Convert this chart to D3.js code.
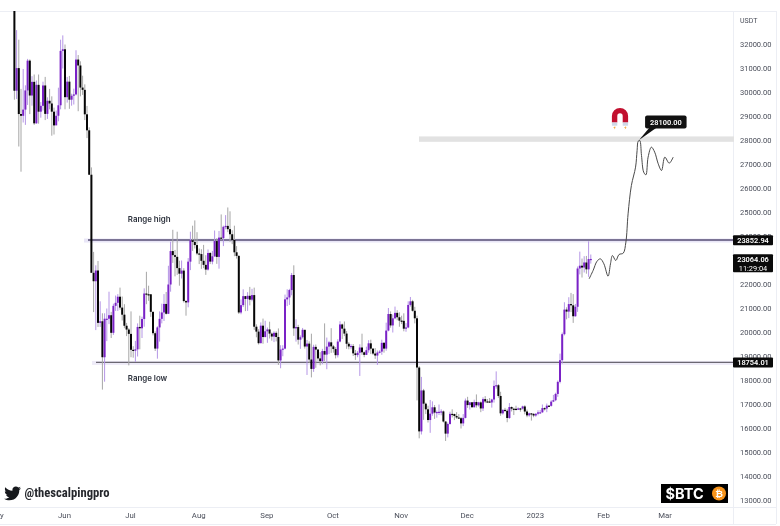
<!DOCTYPE html>
<html><head><meta charset="utf-8">
<script src="https://cdn.jsdelivr.net/npm/d3@7/dist/d3.min.js"></script>
<style>html,body{margin:0;padding:0;background:#fff}svg{display:block;filter:blur(.3px)}</style>
</head><body><div id="c"></div>
<script>
const firstCandle = "2022-05-09";
const firstOpen = 34050;
const closes = [
30074,31017,29103,29030,29287,30086,31328,29874,30444,28715,30319,29201,29445,30293,29109,29655,29542,29201,28629,29031,29468,31734,31801,
29805,30452,29700,29864,29920,31373,31125,30205,30110,29091,28424,26574,22487,22136,22583,20401,20468,18970,20574,20574,20720,19987,21110,21237,21491,21038,20742,20281,20123,19942,
19279,19243,19298,20231,20175,20564,21624,21594,21592,20861,19970,19330,20212,20569,20836,21190,20780,22000,23393,23223,23152,22684,22451,22579,21310,21254,22952,23843,23774,23643,23293,
23268,22987,22818,22622,23312,22954,23175,23810,23149,23954,23934,24403,24442,24305,24094,23854,23342,23191,20834,21140,21515,21399,21529,21368,21559,20241,20037,19555,20285,19811,20050,
20127,19953,19832,19986,19812,18837,19290,19329,21381,21460,21769,22395,20173,20226,19701,19803,20113,19416,19537,18875,18483,19401,19289,18920,18807,19227,19079,19412,19591,19422,
19310,19056,19623,20336,20160,19955,19531,19417,19439,19131,19060,19155,19375,19176,19068,19262,19549,19327,19123,19041,19164,19204,19570,19329,20080,20771,20295,20591,20818,20635,20495,
20485,20159,20209,21148,21300,20905,20592,18541,15880,17586,17034,16799,16353,16618,16884,16663,16688,16697,16712,16291,15787,16189,16610,16604,16522,16458,16428,16212,16442,17163,
16977,17092,16885,17105,16967,17089,16836,17224,17128,17127,17085,17209,17774,17803,17356,16632,16776,16739,16438,16895,16824,16821,16778,16837,16830,16919,16707,16547,16633,16607,16542,
16616,16672,16675,16850,16831,16950,16943,17120,17179,17440,17943,18846,19930,20954,20871,21185,21133,20677,21071,22667,22783,22707,22917,22632,23060,23064];
const highs = [
34200,32600,32200,30150,30980,30300,31400,31380,30680,30750,30500,30750,29600,30450,30650,29800,30150,29840,29370,29250,30200,32200,32380,
32000,30650,30690,29950,30160,31760,31560,31300,30700,30340,29440,28550,26880,23360,22800,22980,21300,20800,20800,21000,21700,20860,21200,21540,21600,21870,21500,21180,20400,20180,
20880,19430,19650,20380,20700,20660,21840,22530,21950,21600,20870,20050,20260,20880,21200,21600,21690,22780,23780,24280,23440,24200,22990,23000,22680,21350,23100,24200,24450,24670,24180,
23500,23470,23650,23220,23460,23350,23400,24250,23930,24230,24920,24450,24890,25210,25050,24260,24450,23600,23220,21380,21800,21520,21680,21900,21820,21870,20340,20140,20420,20580,20490,
20210,20450,20000,20050,20050,20170,19470,19470,21580,21800,21820,22480,22800,20550,20320,19880,20190,20100,19690,19630,19950,19490,19500,19310,19180,19320,20380,19790,19650,20180,
19480,19390,19720,20470,20370,20460,20060,19600,19520,19520,19270,19230,19510,19950,19210,19410,19680,19700,19350,19350,19250,19260,19700,19600,20410,21020,20880,20750,21080,20930,20840,
20700,20800,20390,21300,21480,21360,21070,20700,18600,18150,17650,17080,16950,17190,17130,16980,16750,17000,16800,16750,16300,16250,16700,16800,16620,16680,16600,16480,16600,17250,
17320,17100,17090,17200,17420,17110,17130,17300,17350,17230,17270,17240,18000,18380,17850,17530,16800,16860,16820,17060,16920,16870,16950,16880,16860,16950,16970,16790,16660,16630,16640,
16630,16760,16770,17000,16880,17040,16980,17180,17400,17490,18000,19120,20000,21260,21050,21470,21650,21600,21190,22750,23370,23080,23180,23190,23800,23250];
const lows = [
29700,29730,27750,26700,28750,28650,29480,29100,29450,28650,28700,28700,28950,29250,28850,28900,29300,28200,28250,28800,28800,29300,31000,
29300,29580,29320,29450,29500,29880,29220,29840,29900,28850,28100,26560,22500,20850,20100,20230,20230,17620,17950,19640,20350,19770,19900,20900,20900,20950,20500,20180,19850,18630,
18970,18950,18780,19000,19300,19770,20240,21180,21320,20650,19880,19230,18910,19620,20380,20480,20750,20770,21700,22900,22340,22400,21950,22250,21250,20700,21050,22600,23400,23500,23220,
22850,22650,22680,22400,22580,22850,22840,23150,22860,22660,23850,23600,24300,24180,23780,23680,23180,23080,20770,20760,21060,20890,20900,21130,21300,20110,19800,19500,19550,19530,19800,
19570,19750,19660,19600,19630,18650,18510,19010,19300,21100,21150,21550,19860,19620,19500,19320,19750,19330,18230,18740,18130,18360,18530,18820,18630,18680,18810,18470,19100,19150,
19160,18920,18960,19590,19730,19850,19320,19300,19300,19020,18860,18970,18190,19070,18970,19060,19160,19100,19060,18900,18650,19130,19070,19160,19240,20050,20200,20000,20550,20510,20240,
20350,20050,20030,20180,21080,20870,20380,17170,15590,15750,16360,16600,16250,15820,16530,16400,16450,16560,16550,16250,15480,15630,16160,16460,16350,16400,16400,16000,16100,16420,
16860,16790,16870,16880,16870,16910,16680,16730,17060,17090,17070,16870,17080,17660,17280,16530,16580,16700,16260,16400,16710,16560,16750,16800,16700,16790,16590,16470,16490,16330,16470,
16490,16550,16620,16650,16750,16680,16910,16910,17100,17140,17320,17880,18700,19880,20550,20600,20850,20400,20660,20860,22420,22290,22500,22450,22320,22870];

const projectionDays = [24.7,26.5,28.3,29.8,31.4,33.3,34.4,35.3,36.8,38.3,40.2,41.4,42.4,43.9,45.8,46.5,47,47.7,48.5,49.5,50.5,51.5,53,54.5,56.1,57.6,59.1,61.1,62.9];
const projectionPrices = [22236,22583,22972,23069,22861,22347,22861,23208,23000,23250,23306,23764,24944,26125,26889,27583,27972,28000,27375,26681,26569,27306,27722,27514,27028,26750,27306,27056,27306];

const priceTicks = [13000,14000,15000,16000,17000,18000,19000,20000,21000,22000,24000,25000,26000,27000,28000,29000,30000,31000,32000];
const monthTicks = ["2022-05-01","2022-06-01","2022-07-01","2022-08-01","2022-09-01","2022-10-01","2022-11-01","2022-12-01","2023-01-01","2023-02-01","2023-03-01"];
const monthLabels = ["May","Jun","Jul","Aug","Sep","Oct","Nov","Dec","2023","Feb","Mar"];
const rangeHigh = 23852.94, rangeLow = 18754.01, lastPrice = 23064.06, target = 28100;
const zoneTop = 28170, zoneBottom = 27945;
const rangeHighLabel = "Range high", rangeLowLabel = "Range low", handle = "@thescalpingpro", ticker = "$BTC", quote = "USDT", countdown = "11:29:04";

const W = 780, H = 526, paneR = 734, paneT = 11, paneB = 507, outerB = 524, outerR = 776;
const FONT = "Roboto, 'Liberation Sans', sans-serif";
const UP = "#7a22c6", DOWN = "#060606", UPW = "#b596e6", DOWNW = "#a6a6a6", BORDER = "#eceef4", TXT = "#4a4e5a";
const parse = d3.utcParse("%Y-%m-%d");

const x = d3.scaleUtc().domain([parse("2022-06-01"), parse("2023-03-01")]).range([64, 664.6]);
const barShift = 1;
const y = d3.scaleLinear().domain([13000, 32000]).range([500.5, 44.5]);
const start = parse(firstCandle);
const candles = closes.map((c, i) => ({
  t: d3.utcDay.offset(start, i), o: i ? closes[i - 1] : firstOpen, c, h: highs[i], l: lows[i]
}));
const jan1 = parse("2023-01-01");
const projection = projectionDays.map((d, i) => ({ t: new Date(+jan1 + d * 864e5), p: projectionPrices[i] }));

const svg = d3.select("#c").append("svg").attr("width", W).attr("height", H).style("font-family", FONT);
svg.append("rect").attr("width", W).attr("height", H).attr("fill", "#fff");
svg.append("defs").append("clipPath").attr("id", "pane").append("rect")
  .attr("x", 0).attr("y", paneT).attr("width", paneR).attr("height", paneB - paneT);

// frame
const frame = svg.append("g").attr("stroke", BORDER).attr("stroke-width", 1);
[[0, paneT + .5, outerR, paneT + .5], [0, paneB + .5, outerR, paneB + .5], [0, outerB + .5, outerR, outerB + .5],
 [paneR - .5, paneT, paneR - .5, outerB], [outerR + .5, paneT, outerR + .5, outerB]]
  .forEach(l => frame.append("line").attr("x1", l[0]).attr("y1", l[1]).attr("x2", l[2]).attr("y2", l[3]));

const pane = svg.append("g").attr("clip-path", "url(#pane)");

// target zone
pane.append("rect").attr("x", 419).attr("width", paneR - 419)
  .attr("y", y(zoneTop)).attr("height", y(zoneBottom) - y(zoneTop)).attr("fill", "#e2e2e2");

// range lines
function rangeLine(p, x0, col, halo) {
  pane.append("rect").attr("x", x0 - 4).attr("width", paneR - x0 + 4).attr("y", y(p) - 1.5).attr("height", 4).attr("fill", halo);
  pane.append("line").attr("x1", x0).attr("x2", paneR).attr("y1", y(p)).attr("y2", y(p)).attr("stroke", col).attr("stroke-width", 1.4);
}
rangeLine(rangeHigh, 88, "#564e74", "#e9e6f7");
rangeLine(rangeLow, 96, "#6b6772", "#eeebf8");

// candles
const g = pane.selectAll("g.c").data(candles).join("g").attr("class", "c").attr("transform", `translate(${barShift},0)`);
g.append("line").attr("x1", d => x(d.t)).attr("x2", d => x(d.t)).attr("y1", d => y(d.h)).attr("y2", d => y(d.l))
  .attr("stroke", d => d.c >= d.o ? UPW : DOWNW).attr("stroke-width", 1);
g.append("rect").attr("x", d => x(d.t) - 1).attr("width", 2)
  .attr("y", d => y(Math.max(d.o, d.c))).attr("height", d => Math.max(1.2, Math.abs(y(d.o) - y(d.c))))
  .attr("fill", d => d.c >= d.o ? UP : DOWN);

// projected path
pane.append("path").attr("fill", "none").attr("stroke", "#4a4a4a").attr("stroke-width", 1)
  .attr("d", d3.line().x(d => x(d.t)).y(d => y(d.p)).curve(d3.curveCatmullRom.alpha(.5))(projection));

// range labels
const label = (t, d, p) => svg.append("text").attr("x", x(parse(d))).attr("y", y(p)).text(t)
  .attr("fill", "#2a2f3a").attr("font-size", 7.9).attr("font-weight", 600)
  .attr("font-family", "Inter, Roboto, sans-serif");
label(rangeHighLabel, "2022-06-30", 24625);
label(rangeLowLabel, "2022-06-30", 18000);

// price axis
const axisR = svg.append("g").attr("transform", `translate(${paneR},0)`)
  .call(d3.axisRight(y).tickValues(priceTicks).tickSize(0).tickPadding(6).tickFormat(d3.format(".2f")));
axisR.select(".domain").remove();
axisR.selectAll("text").attr("font-family", FONT).attr("font-size", 7.5).attr("fill", TXT);
svg.append("text").attr("x", 740).attr("y", 23).text(quote).attr("font-size", 7).attr("fill", TXT);

// time axis
const axisB = svg.append("g").attr("transform", `translate(0,${paneB})`)
  .call(d3.axisBottom(x).tickValues(monthTicks.map(parse)).tickSize(0).tickPadding(5)
    .tickFormat((d, i) => monthLabels[i]));
axisB.select(".domain").remove();
axisB.selectAll("text").attr("font-family", FONT).attr("font-size", 7.8).attr("fill", TXT);

// price tags
function tag(top, h, lines) {
  const t = svg.append("g");
  t.append("rect").attr("x", paneR - 1).attr("y", top).attr("width", 40).attr("height", h).attr("rx", 1).attr("fill", "#0a0a0a");
  lines.forEach((s, i) => t.append("text").attr("x", paneR + 19).attr("y", top + 7.5 + i * 8.8)
    .attr("text-anchor", "middle").attr("fill", "#fff").attr("font-size", 7.4).attr("font-weight", i ? 400 : 600).text(s));
}
tag(y(rangeHigh) - 4.7, 10, [rangeHigh.toFixed(2)]);
tag(y(lastPrice) - 4.6, 18, [lastPrice.toFixed(2), countdown]);
tag(y(rangeLow) - 5, 10, [rangeLow.toFixed(2)]);

// target callout
const tipX = x(new Date(+jan1 + 47.4 * 864e5)), tipY = y(target) + 2;
svg.append("path").attr("d", `M${tipX},${tipY}L${tipX + 10},${tipY - 12}L${tipX + 17},${tipY - 12}Z`).attr("fill", "#111");
svg.append("rect").attr("x", tipX + 6).attr("y", tipY - 24.5).attr("width", 41.5).attr("height", 13).attr("rx", 2).attr("fill", "#111");
svg.append("text").attr("x", tipX + 26.8).attr("y", tipY - 15.2).attr("text-anchor", "middle").attr("fill", "#fff")
  .attr("font-size", 7.4).attr("font-weight", 600).text(target.toFixed(2));

// magnet
const m = svg.append("g").attr("transform", "translate(620,118)");
m.append("path").attr("d", "M-5.4,4.5 V-2 A5.4,5.4 0 0 1 5.4,-2 V4.5").attr("fill", "none").attr("stroke", "#c2102f").attr("stroke-width", 5.4);
m.append("rect").attr("x", -8.1).attr("y", 4.5).attr("width", 5.4).attr("height", 3.2).attr("fill", "#cfd8e6");
m.append("rect").attr("x", 2.7).attr("y", 4.5).attr("width", 5.4).attr("height", 3.2).attr("fill", "#cfd8e6");
m.append("path").attr("d", "M-5.2,8.4l-1.6,1.7h1.3l-.6,1.4 2-2.1h-1.3l.9-1z").attr("fill", "#f0a030");
m.append("path").attr("d", "M5.6,8.4l-1.6,1.7h1.3l-.6,1.4 2-2.1h-1.3l.9-1z").attr("fill", "#f0a030");

// twitter handle
svg.append("path").attr("transform", "translate(3.5,484.5) scale(.74)").attr("fill", "#16181c")
  .attr("d", "M23.643 4.937c-.835.37-1.732.62-2.675.733.962-.576 1.7-1.49 2.048-2.578-.9.534-1.897.922-2.958 1.13-.85-.904-2.06-1.47-3.4-1.47-2.572 0-4.658 2.086-4.658 4.66 0 .364.042.718.12 1.06-3.873-.195-7.304-2.05-9.602-4.868-.4.69-.63 1.49-.63 2.342 0 1.616.823 3.043 2.072 3.878-.764-.025-1.482-.234-2.11-.583v.06c0 2.257 1.605 4.14 3.737 4.568-.392.106-.803.162-1.227.162-.3 0-.593-.028-.877-.082.593 1.85 2.313 3.198 4.352 3.234-1.595 1.25-3.604 1.995-5.786 1.995-.376 0-.747-.022-1.112-.065 2.062 1.323 4.51 2.093 7.14 2.093 8.57 0 13.255-7.098 13.255-13.254 0-.2-.005-.402-.014-.602.91-.658 1.7-1.477 2.323-2.41z");
svg.append("text").attr("x", 24.5).attr("y", 497).text(handle).attr("font-size", 13).attr("font-weight", 700)
  .attr("fill", "#24262b").attr("font-family", "'Liberation Sans Narrow','Roboto Condensed',Roboto,sans-serif")
  .attr("textLength", 85).attr("lengthAdjust", "spacingAndGlyphs");

// ticker badge
const b = svg.append("g");
b.append("rect").attr("x", 661).attr("y", 484).attr("width", 67).attr("height", 19).attr("fill", "#000");
b.append("text").attr("x", 665.5).attr("y", 498.5).text(ticker).attr("fill", "#fff").attr("font-size", 14.5).attr("font-weight", 700)
  .attr("font-family", "Inter, 'Open Sans', sans-serif");
b.append("circle").attr("cx", 719).attr("cy", 493.5).attr("r", 7).attr("fill", "#f7931a");
b.append("text").attr("x", 719).attr("y", 497).attr("text-anchor", "middle").attr("fill", "#fff").attr("font-size", 9.5).attr("font-weight", 700)
  .attr("font-family", "'DejaVu Sans',sans-serif").text("₿");
</script></body></html>
